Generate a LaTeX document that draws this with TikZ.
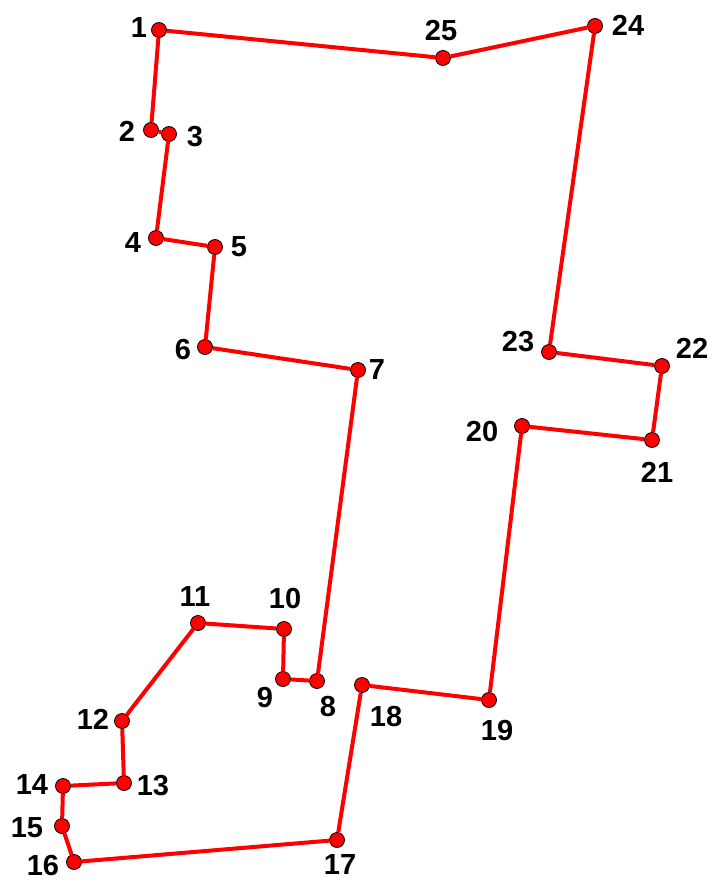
\documentclass[tikz,border=0pt]{standalone}
\usepackage{fontspec}
\setmainfont{Liberation Sans}
\usepackage{tikz}
\usetikzlibrary{calc}
\definecolor{pathred}{RGB}{255,0,0}

\tikzset{
  pt/.style={circle,draw=black,thick,fill=pathred,minimum size=15pt,inner sep=0pt},
  lbl/.style={font=\bfseries\fontsize{29}{32}\selectfont,inner sep=0pt},
  route/.style={pathred,line width=4pt,line join=round}
}

\begin{document}
\begin{tikzpicture}[x=1pt,y=-1pt]
    \useasboundingbox (0,0) rectangle (712,880);

    % Points
    \foreach \n/\x/\y in {1/159/30, 2/151/130, 3/169/134, 4/156/238, 5/215/247,
        6/205/347, 7/358/370, 8/317/681, 9/283/679, 10/284/629, 11/198/623,
        12/122/721, 13/124/783, 14/63/786, 15/62/826, 16/74/862, 17/337/840,
        18/362/685, 19/489/700, 20/522/426, 21/652/440, 22/662/366,
        23/549/352, 24/595/26, 25/443/58}
        \node[pt] (p\n) at (\x,\y) {};

    % Route
    \draw[route] (p1) -- (p2) -- (p3) -- (p4) -- (p5) -- (p6) -- (p7) -- (p8)
        -- (p9) -- (p10) -- (p11) -- (p12) -- (p13) -- (p14) -- (p15) -- (p16)
        -- (p17) -- (p18) -- (p19) -- (p20) -- (p21) -- (p22) -- (p23) -- (p24)
        -- (p25) -- (p1);

    % Labels
    \foreach \n/\x/\y in {1/139/28, 2/127/131, 3/195/137, 4/133/243, 5/239/247,
        6/183/350, 7/377/370, 8/328/707, 9/265/698, 10/285/599, 11/195/597,
        12/93/719, 13/153/786, 14/32/785, 15/27/828, 16/43/866, 17/340/865,
        18/386/717, 19/497/731, 20/482/432, 21/657/472, 22/692/348,
        23/518/342, 24/628/25, 25/441/31}
        \node[lbl] (l\n) at (\x,\y) {\n};
\end{tikzpicture}
\end{document}
